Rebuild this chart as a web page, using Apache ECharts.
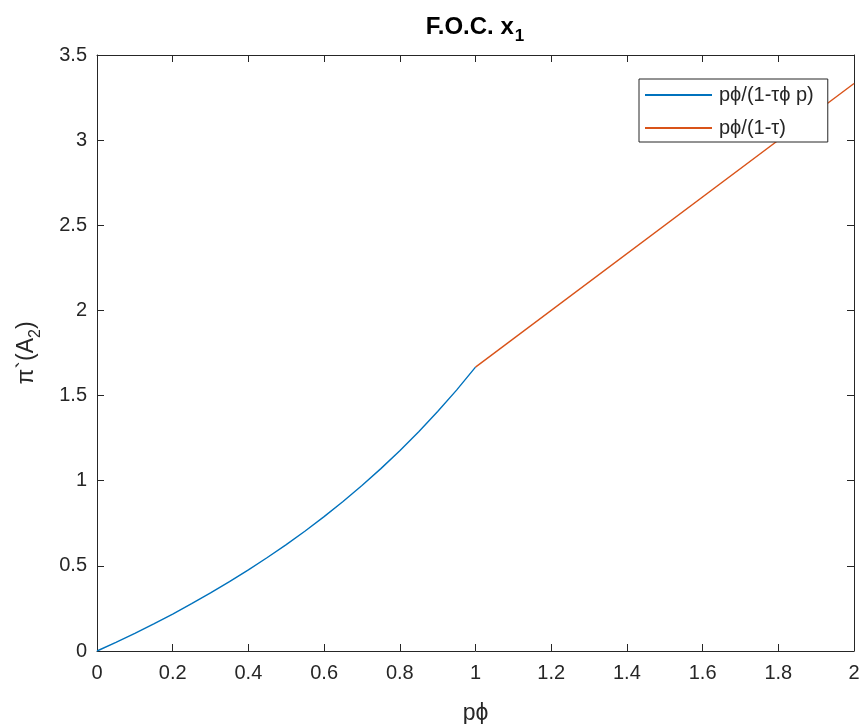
<!DOCTYPE html>
<html>
<head>
<meta charset="utf-8">
<script src="https://cdn.jsdelivr.net/npm/echarts@6/dist/echarts.min.js"></script>
<style>html,body{margin:0;padding:0;background:#fff}#c{width:863px;height:724px}</style>
</head>
<body>
<div id="c"></div>
<script>
// Data
const blueX = [0, 0.05, 0.1, 0.15, 0.2, 0.25, 0.3, 0.35, 0.4, 0.45, 0.5, 0.55, 0.6, 0.65, 0.7, 0.75, 0.8, 0.85, 0.9, 0.95, 1.0];
const blueY = [0, 0.051, 0.104, 0.160, 0.217, 0.278, 0.341, 0.407, 0.476, 0.549, 0.625, 0.705, 0.789, 0.878, 0.972, 1.071, 1.176, 1.288, 1.406, 1.532, 1.667];
const redX = [1.0, 2.0];
const redY = [1.667, 3.333];
const seriesNames = ['p\u03d5/(1-\u03c4\u03d5 p)', 'p\u03d5/(1-\u03c4)'];

const FONT = '"Liberation Sans", Arial, Helvetica, sans-serif';
const TXT = '#262626';

const chart = echarts.init(document.getElementById('c'), null, {renderer: 'canvas'});

const baseAxis = {
  axisLine: {show: true, onZero: false, lineStyle: {color: TXT, width: 1}},
  axisTick: {show: true, inside: true, length: 7, lineStyle: {color: TXT, width: 1}},
  splitLine: {show: false}
};

chart.setOption({
  animation: false,
  backgroundColor: '#fff',
  title: {
    text: '{m|F.O.C. x}{s|1}',
    left: 470, top: 10, textAlign: 'center',
    textStyle: {
      rich: {
        m: {fontFamily: FONT, fontSize: 24, fontWeight: 'bold', color: '#000', lineHeight: 28, verticalAlign: 'top'},
        s: {fontFamily: FONT, fontSize: 17, fontWeight: 'bold', color: '#000', lineHeight: 28, padding: [13, 0, 0, 1], verticalAlign: 'top'}
      }
    }
  },
  grid: {left: 97, top: 55, right: 9, bottom: 73, containLabel: false, outerBoundsMode: 'none'},
  legend: {
    orient: 'vertical',
    left: 639, top: 79,
    padding: [6, 14, 4, 6],
    itemGap: 13,
    itemWidth: 67, itemHeight: 2,
    icon: 'rect',
    borderColor: TXT, borderWidth: 1,
    backgroundColor: '#fff',
    textStyle: {fontFamily: FONT, fontSize: 20, color: TXT, lineHeight: 20, padding: [0, 0, 0, 2]},
    data: seriesNames
  },
  xAxis: [
    Object.assign({}, baseAxis, {
      type: 'value', min: 0, max: 2, interval: 0.2, position: 'bottom',
      axisLabel: {fontFamily: FONT, fontSize: 20, color: TXT, margin: 12},
      name: 'p\u03d5', nameLocation: 'middle', nameGap: 51,
      nameTextStyle: {fontFamily: FONT, fontSize: 23, color: TXT}
    }),
    Object.assign({}, baseAxis, {
      type: 'value', min: 0, max: 2, interval: 0.2, position: 'top',
      axisLabel: {show: false}
    })
  ],
  yAxis: [
    Object.assign({}, baseAxis, {
      type: 'value', min: 0, max: 3.5, interval: 0.5, position: 'left',
      axisLabel: {fontFamily: FONT, fontSize: 20, color: TXT, margin: 10},
      name: '{m|\u03c0`(A}{s|2}{m|)}', nameLocation: 'middle', nameGap: 54,
      nameTextStyle: {
        rich: {
          m: {fontFamily: FONT, fontSize: 23, color: TXT, lineHeight: 28, verticalAlign: 'top'},
          s: {fontFamily: FONT, fontSize: 16, color: TXT, lineHeight: 28, padding: [13, 0, 0, 0], verticalAlign: 'top'}
        }
      }
    }),
    Object.assign({}, baseAxis, {
      type: 'value', min: 0, max: 3.5, interval: 0.5, position: 'right',
      axisLabel: {show: false}
    })
  ],
  series: [
    {
      name: seriesNames[0], type: 'line', symbol: 'none', smooth: false,
      lineStyle: {color: '#0072BD', width: 1.4},
      itemStyle: {color: '#0072BD'},
      data: blueX.map((x, i) => [x, blueY[i]])
    },
    {
      name: seriesNames[1], type: 'line', symbol: 'none',
      lineStyle: {color: '#D95319', width: 1.4},
      itemStyle: {color: '#D95319'},
      data: redX.map((x, i) => [x, redY[i]])
    }
  ]
});
</script>
</body>
</html>
